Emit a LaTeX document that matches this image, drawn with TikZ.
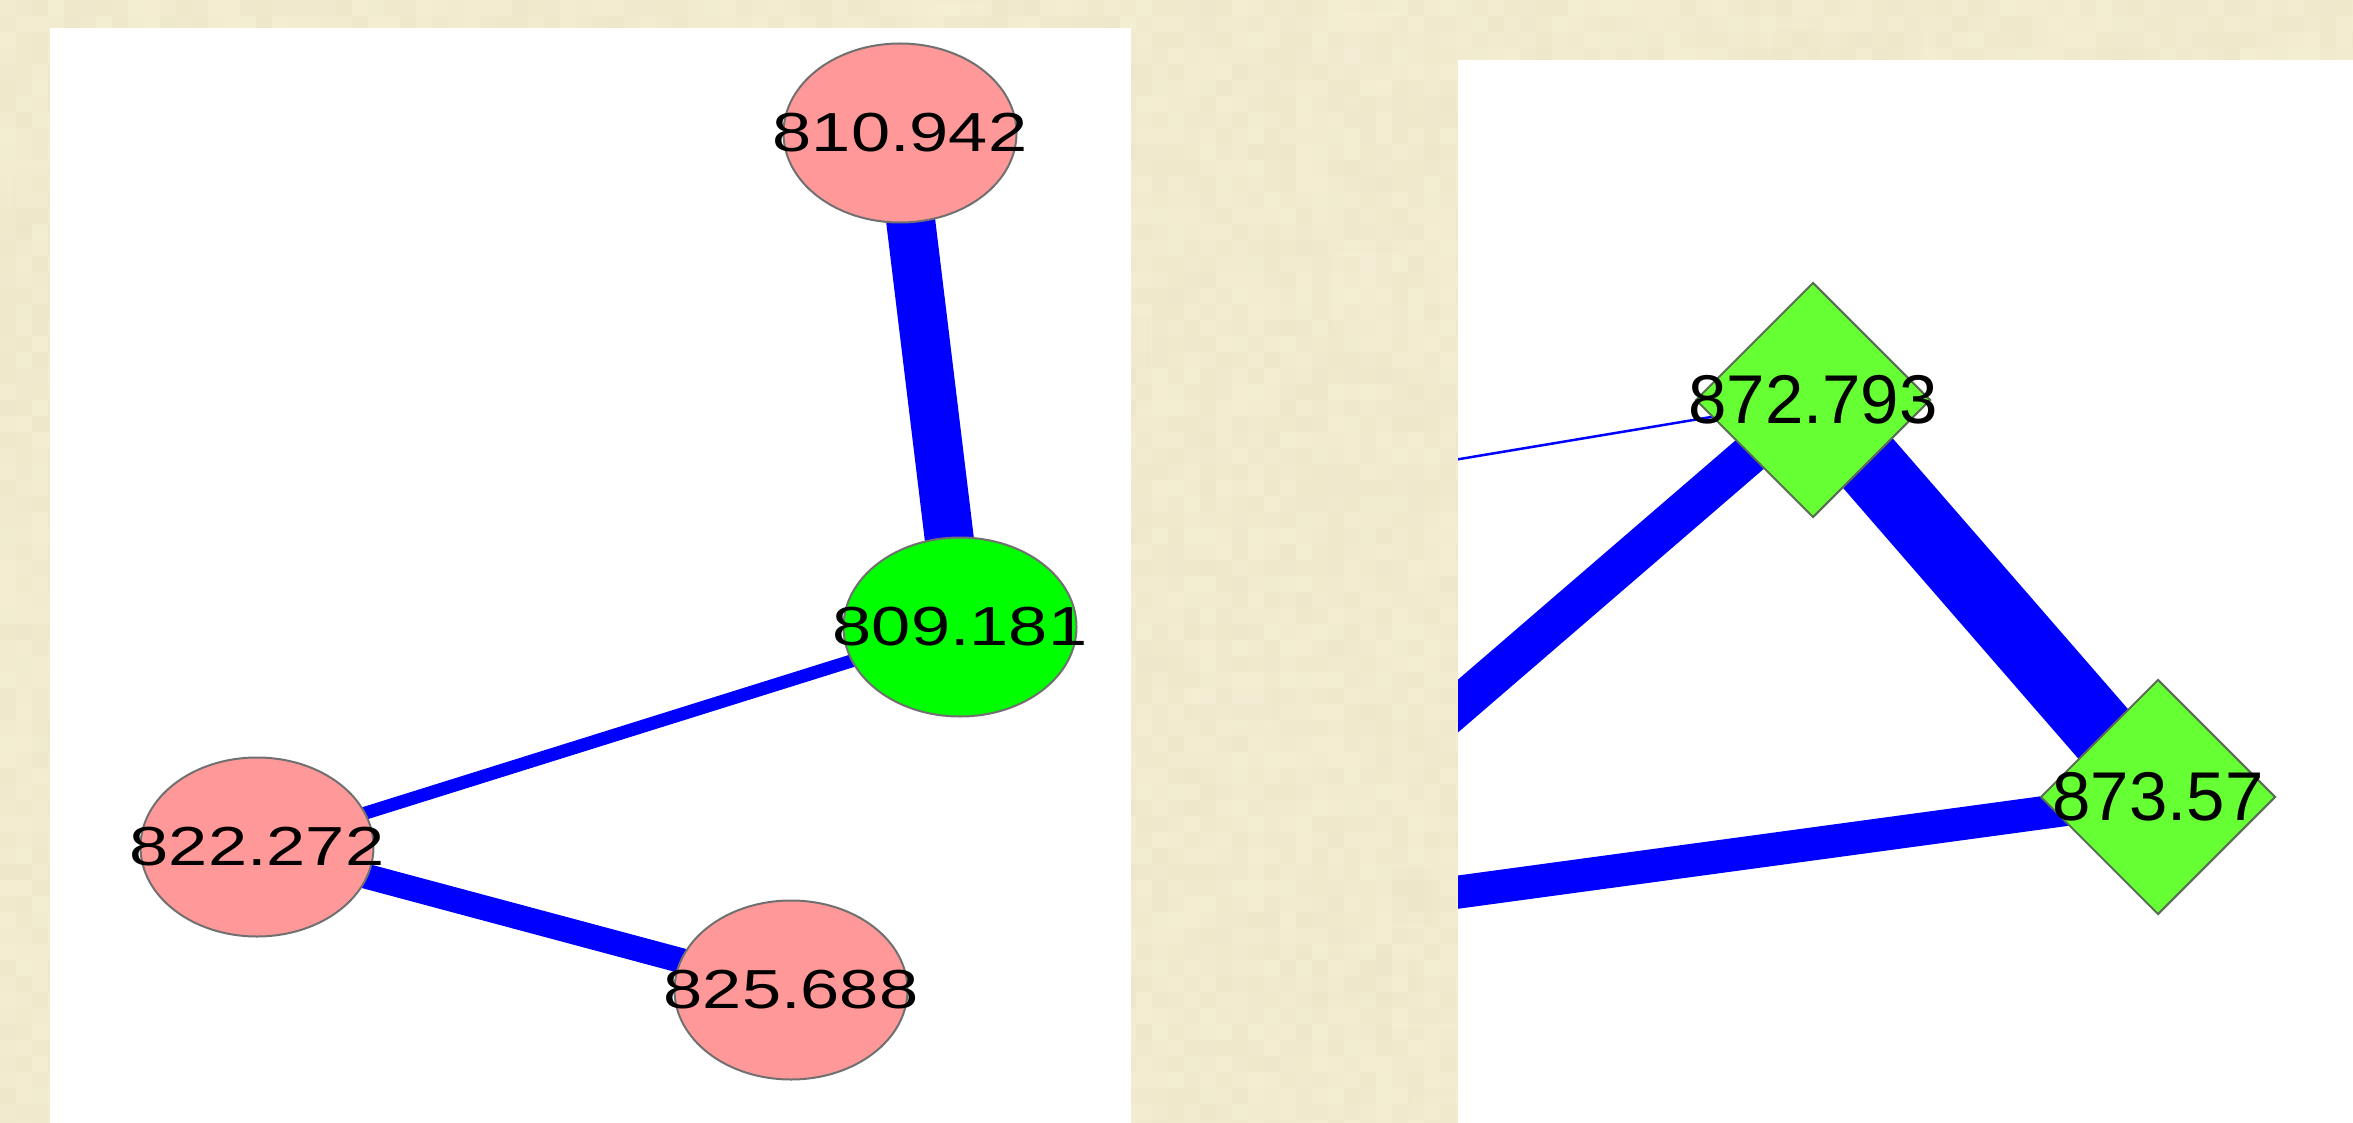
\documentclass[tikz,border=0pt]{standalone}
\usepackage{fontspec}
\setmainfont{Liberation Sans}
\newfontfamily\widesans[FakeStretch=1.28]{Liberation Sans}
\usetikzlibrary{shapes.geometric}

\definecolor{parchA}{RGB}{237,229,199}
\definecolor{parchB}{RGB}{246,240,214}
\definecolor{edgeblue}{RGB}{0,0,255}
\definecolor{pinkfill}{RGB}{255,153,153}
\definecolor{limefill}{RGB}{0,255,0}
\definecolor{leaffill}{RGB}{102,255,51}
\definecolor{ovalrim}{RGB}{112,112,112}
\definecolor{gemrim}{RGB}{90,110,84}

\pgfdeclarelayer{paper}
\pgfdeclarelayer{links}
\pgfsetlayers{paper,links,main}

\tikzset{
  oval/.style={ellipse, draw=ovalrim, line width=2pt, inner sep=0pt,
               minimum width=233pt, minimum height=179pt},
  pinkoval/.style={oval, fill=pinkfill},
  greenoval/.style={oval, fill=limefill},
  gem/.style={diamond, aspect=1, draw=gemrim, line width=2pt, fill=leaffill,
              inner sep=0pt, minimum width=235pt, minimum height=235pt},
  lefttext/.style={font=\widesans\fontsize{55}{60}\selectfont, text=black, inner sep=0pt},
  righttext/.style={font=\fontsize{69}{75}\selectfont, text=black, inner sep=0pt},
  link/.style={draw=edgeblue, line cap=butt},
}

\begin{document}
\begin{tikzpicture}[x=1pt, y=-1pt]
  \useasboundingbox (0,0) rectangle (2353,1123);

  % ---------- nodes: left graph ----------
  \node[pinkoval,  label={[lefttext]center:810.942}] (n810) at (900,133) {};
  \node[greenoval, label={[lefttext]center:809.181}] (n809) at (960,627) {};
  \node[pinkoval,  label={[lefttext]center:822.272}] (n822) at (257,847) {};
  \node[pinkoval,  label={[lefttext]center:825.688}] (n825) at (791,990) {};

  % ---------- nodes: right graph ----------
  \node[gem, label={[righttext]center:872.793}] (n872) at (1813,400) {};
  \node[gem, label={[righttext]center:873.57}]  (n873) at (2158,797) {};

  % far ends of links that leave the right panel
  \coordinate (farA) at (1400,469);
  \coordinate (farB) at (1400,756);
  \coordinate (farC) at (1400,900);

  % ---------- paper background and white panels ----------
  \begin{pgfonlayer}{paper}
    \fill[parchB!55!parchA] (0,0) rectangle (2353,1123);
    \pgfmathsetseed{4242}
    % soft large blotches
    \foreach \i in {1,...,60} {
      \pgfmathrandominteger{\bx}{0}{2353}
      \pgfmathrandominteger{\by}{0}{1123}
      \pgfmathrandominteger{\bw}{40}{140}
      \pgfmathrandominteger{\bh}{30}{110}
      \pgfmathrandominteger{\r}{0}{100}
      \fill[parchB!\r!parchA, opacity=0.6] (\bx,\by) rectangle ++(\bw,\bh);
    }
    % fine grain
    \foreach \xa/\xb/\ya/\yb in {0/2352/0/48, 0/48/64/1120, 1120/1456/64/1120} {
      \pgfmathtruncatemacro\xs{\xa+16}
      \pgfmathtruncatemacro\ys{\ya+16}
      \foreach \x in {\xa,\xs,...,\xb} {
        \foreach \y in {\ya,\ys,...,\yb} {
          \pgfmathrandominteger{\r}{0}{100}
          \fill[parchB!\r!parchA, opacity=0.5] (\x,\y) rectangle ++(16,16);
        }
      }
    }
    \fill[white] (50,28) rectangle (1131,1123);
    \fill[white] (1458,60) rectangle (2353,1123);
  \end{pgfonlayer}

  % ---------- links ----------
  \begin{pgfonlayer}{links}
    \draw[link, line width=49pt] (n810.center) -- (n809.center);
    \draw[link, line width=13pt] (n809.center) -- (n822.center);
    \draw[link, line width=25pt] (n822.center) -- (n825.center);
    \begin{scope}
      \clip (1458,60) rectangle (2353,1123);
      \draw[link, line width=2.5pt] (farA) -- (n872.center);
      \draw[link, line width=40pt]  (farB) -- (n872.center);
      \draw[link, line width=33pt]  (farC) -- (n873.center);
      \draw[link, line width=70pt]  (n872.center) -- (n873.center);
    \end{scope}
  \end{pgfonlayer}
\end{tikzpicture}
\end{document}
